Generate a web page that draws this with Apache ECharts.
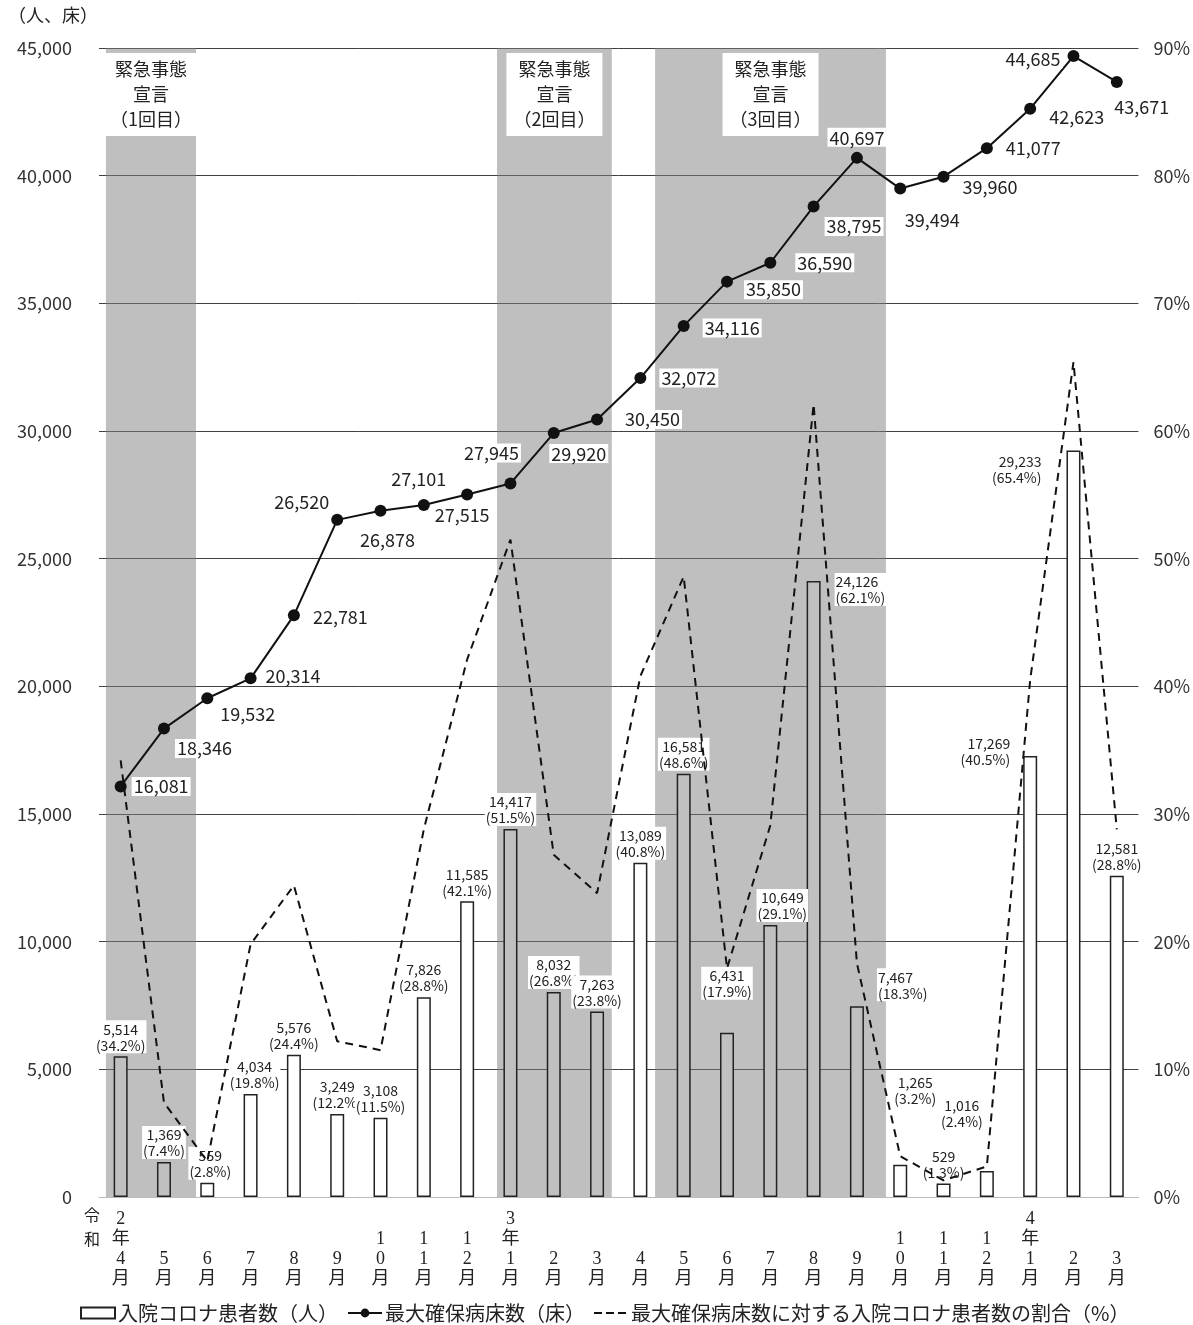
<!DOCTYPE html>
<html>
<head>
<meta charset="utf-8">
<title>入院コロナ患者数と最大確保病床数の推移</title>
<style>
    html, body { margin: 0; padding: 0; background: #fff; }
    #main { width: 1193px; height: 1325px; }
</style>
</head>
<body>
<div id="main"></div>
<script src="https://cdn.jsdelivr.net/npm/echarts@6/dist/echarts.min.js"></script>
<script>
    // 月（令和2年4月～令和4年3月）
    var months = ['2年4月','5月','6月','7月','8月','9月','10月','11月','12月','3年1月','2月','3月',
        '4月','5月','6月','7月','8月','9月','10月','11月','12月','4年1月','2月','3月'];
    // 入院コロナ患者数（人）
    var patients = [5514, 1369, 559, 4034, 5576, 3249, 3108, 7826, 11585, 14417, 8032, 7263,
        13089, 16581, 6431, 10649, 24126, 7467, 1265, 529, 1016, 17269, 29233, 12581];
    // 最大確保病床数（床）
    var beds = [16081, 18346, 19532, 20314, 22781, 26520, 26878, 27101, 27515, 27945, 29920, 30450,
        32072, 34116, 35850, 36590, 38795, 40697, 39494, 39960, 41077, 42623, 44685, 43671];
    // 最大確保病床数に対する入院コロナ患者数の割合（%）
    var ratio = [34.2, 7.4, 2.8, 19.8, 24.4, 12.2, 11.5, 28.8, 42.1, 51.5, 26.8, 23.8,
        40.8, 48.6, 17.9, 29.1, 62.1, 18.3, 3.2, 1.3, 2.4, 40.5, 65.4, 28.8];
    // 緊急事態宣言の期間（月単位、0 = 令和2年4月の始め）
    var emergencyNames = ['1回目', '2回目', '3回目'];
    var emergencyFrom = [0.16, 9.19, 12.84];
    var emergencyTo = [2.24, 11.84, 18.17];
    // 軸
    var leftMax = 45000, leftStep = 5000;
    var rightMax = 90, rightStep = 10;

    var FONT = '"Noto Sans CJK JP", "Noto Sans", sans-serif';
    var SERIF = '"Liberation Serif", "DejaVu Serif", "Noto Sans CJK JP", serif';
    var SHADE = '#c0c0c0';
    // 凡例の「---」
    var DASH_ICON = 'path://M0,0h0.01v0.01h-0.01zM0,4.5h8v2h-8zM12,4.5h8v2h-8zM24,4.5h8v2h-8zM33.99,10.99h0.01v0.01h-0.01z';

    function fmt(v) { return v.toLocaleString('en-US'); }

    function inEmergency(i) {
        var c = i + 0.5;
        for (var k = 0; k < emergencyFrom.length; k++) {
            if (c > emergencyFrom[k] && c < emergencyTo[k]) return true;
        }
        return false;
    }

    // 縦書きのラベル（下揃えにするため4行にそろえる）
    function verticalLabel(s) {
        var chars = s.split('');
        while (chars.length < 4) chars.unshift('');
        return chars.join('\n');
    }

    // 棒ラベルの位置調整
    var barLabelFix = {
        2: {offset: [3, 0]},
        3: {offset: [4, 0]},
        14: {offset: [0, -30]},
        15: {offset: [12, 0]},
        16: {position: [28, -8], align: 'left', verticalAlign: 'top'},
        17: {position: [27, -38], align: 'left', verticalAlign: 'top'},
        18: {offset: [15, -55]},
        20: {offset: [-25, -38]},
        21: {position: [-12, -21], align: 'right', verticalAlign: 'top'},
        22: {position: [-24, 2], align: 'right', verticalAlign: 'top'}
    };
    // 病床数ラベルの位置
    var bedLabelFix = [
        ['right', [0, 0]], ['right', [0, 20]], ['right', [0, 16]], ['right', [2, -2]],
        ['right', [6, 2]], ['left', [5, -18]], ['bottom', [7, 8]], ['top', [-5, -6]],
        ['bottom', [-5, 0]], ['top', [-19, -10]], ['bottom', [25, 0]], ['right', [15, 0]],
        ['right', [8, 0]], ['right', [8, 2]], ['right', [6, 8]], ['right', [14, 0]],
        ['right', [0, 20]], ['top', [0, 0]], ['bottom', [32, 11]], ['right', [6, 10]],
        ['right', [6, 0]], ['right', [6, 8]], ['left', [0, 3]], ['bottom', [25, 4]]
    ];

    var barData = patients.map(function (v, i) {
        var item = {value: v, itemStyle: {color: inEmergency(i) ? SHADE : '#fff'}};
        if (barLabelFix[i]) item.label = barLabelFix[i];
        return item;
    });

    var bedData = beds.map(function (v, i) {
        return {value: v, label: {position: bedLabelFix[i][0], offset: bedLabelFix[i][1]}};
    });

    var areas = emergencyFrom.map(function (f, k) {
        return [{
            xAxis: f,
            name: '緊急事態\n宣言\n（' + emergencyNames[k] + '）'
        }, {xAxis: emergencyTo[k]}];
    });

    var myChart = echarts.init(document.getElementById('main'));
    var option = {
        animation: false,
        backgroundColor: '#fff',
        textStyle: {fontFamily: FONT},
        grid: {left: 99, right: 48, top: 48, bottom: 128},
        legend: {
            data: [
                {name: '入院コロナ患者数（人）', icon: 'rect'},
                {name: '最大確保病床数（床）'},
                {name: '最大確保病床数に対する入院コロナ患者数の割合（%）', icon: DASH_ICON}
            ],
            left: 75,
            top: 1298,
            itemGap: 9,
            itemWidth: 34,
            itemHeight: 11,
            textStyle: {fontFamily: FONT, fontSize: 20, color: '#222', padding: [0, 0, 0, -2]}
        },
        graphic: [
            {type: 'text', left: 8, top: 6, style: {text: '（人、床）', font: '18px ' + FONT, fill: '#222'}},
            {type: 'text', left: 84, top: 1203, style: {text: '令\n和', font: '16px ' + FONT, fill: '#222', lineHeight: 24}}
        ],
        xAxis: [{
            type: 'category',
            data: months,
            axisLine: {lineStyle: {color: '#bbb'}},
            axisTick: {show: false},
            axisLabel: {
                interval: 0,
                margin: 12,
                fontSize: 18,
                lineHeight: 20,
                color: '#222',
                fontFamily: SERIF,
                formatter: verticalLabel
            }
        }, {
            type: 'value',
            min: 0,
            max: months.length,
            show: false
        }],
        yAxis: [{
            type: 'value',
            min: 0,
            max: leftMax,
            interval: leftStep,
            axisLine: {show: false},
            axisTick: {show: false},
            axisLabel: {
                margin: 27,
                fontSize: 18,
                color: '#333',
                fontFamily: FONT,
                formatter: function (v) { return fmt(v); }
            },
            splitLine: {lineStyle: {color: '#404040', width: 1}}
        }, {
            type: 'value',
            min: 0,
            max: rightMax,
            interval: rightStep,
            axisLine: {show: false},
            axisTick: {show: false},
            axisLabel: {margin: 15, fontSize: 18, color: '#333', fontFamily: FONT, formatter: '{value}%'},
            splitLine: {show: false}
        }],
        series: [
            {
                // 緊急事態宣言の網掛け
                name: 'emergency',
                type: 'line',
                xAxisIndex: 1,
                yAxisIndex: 0,
                data: [[0, 0]],
                symbol: 'none',
                lineStyle: {width: 0, opacity: 0},
                silent: true,
                z: 1,
                markArea: {
                    silent: true,
                    itemStyle: {color: 'rgba(128,128,128,0.5)'},
                    label: {
                        show: true,
                        position: 'insideTop',
                        distance: 5,
                        fontSize: 18,
                        lineHeight: 25,
                        color: '#222',
                        fontFamily: FONT,
                        backgroundColor: '#fff',
                        padding: [4, 7, 4, 7],
                        align: 'center'
                    },
                    data: areas
                }
            },
            {
                name: '入院コロナ患者数（人）',
                type: 'bar',
                barWidth: 14,
                z: 2,
                itemStyle: {color: '#fff', borderColor: '#222', borderWidth: 1.5},
                label: {
                    show: true,
                    position: 'top',
                    distance: 3,
                    fontSize: 14,
                    lineHeight: 16,
                    color: '#222',
                    fontFamily: FONT,
                    backgroundColor: '#fff',
                    padding: [1, 1, 0, 1],
                    formatter: function (p) {
                        return fmt(p.value) + '\n(' + ratio[p.dataIndex].toFixed(1) + '%)';
                    }
                },
                data: barData
            },
            {
                name: '最大確保病床数に対する入院コロナ患者数の割合（%）',
                type: 'line',
                yAxisIndex: 1,
                z: 3,
                symbol: 'none',
                lineStyle: {color: '#111', width: 2, type: [8, 6]},
                itemStyle: {color: '#111'},
                data: ratio
            },
            {
                name: '最大確保病床数（床）',
                type: 'line',
                z: 4,
                symbol: 'circle',
                symbolSize: 12,
                lineStyle: {color: '#111', width: 2},
                itemStyle: {color: '#111'},
                label: {
                    show: true,
                    fontSize: 18,
                    color: '#222',
                    fontFamily: FONT,
                    backgroundColor: '#fff',
                    padding: [1, 2, 0, 2],
                    formatter: function (p) { return fmt(p.value); }
                },
                data: bedData
            }
        ]
    };
    myChart.setOption(option);
</script>
</body>
</html>
